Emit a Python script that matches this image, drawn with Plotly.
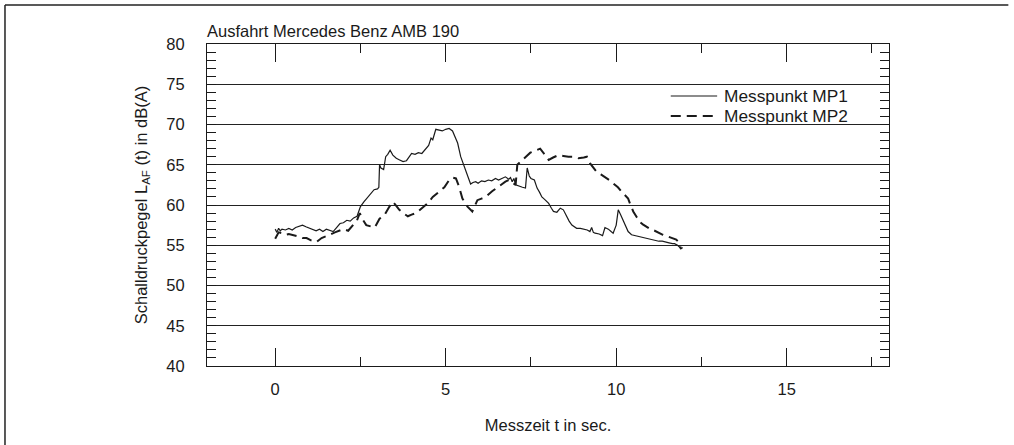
import plotly.graph_objects as go

# ---- data ----
t_mp1 = [0.0, 0.05, 0.1, 0.15, 0.2, 0.3, 0.4, 0.5, 0.6, 0.7, 0.8, 0.9, 1.0, 1.1, 1.2, 1.3, 1.4, 1.5,
         1.6, 1.7, 1.8, 1.9, 2.0, 2.1, 2.2, 2.3, 2.4, 2.5, 2.6, 2.7, 2.8, 2.9, 3.0, 3.04, 3.06, 3.1,
         3.18, 3.24, 3.3, 3.37, 3.45, 3.55, 3.65, 3.75, 3.85, 3.92, 4.0, 4.1, 4.2, 4.3, 4.4, 4.5,
         4.57, 4.62, 4.71, 4.8, 4.9, 5.0, 5.1, 5.2, 5.3, 5.35, 5.44, 5.54, 5.64, 5.73, 5.8, 5.88,
         5.95, 6.05, 6.15, 6.25, 6.35, 6.46, 6.55, 6.65, 6.75, 6.85, 6.9, 6.95, 7.0, 7.05, 7.15,
         7.25, 7.34, 7.39, 7.45, 7.5, 7.6, 7.68, 7.75, 7.82, 7.9, 8.02, 8.1, 8.16, 8.26, 8.36, 8.45,
         8.55, 8.62, 8.7, 8.78, 8.84, 8.95, 9.04, 9.15, 9.23, 9.28, 9.33, 9.38, 9.5, 9.6, 9.67,
         9.77, 9.85, 9.91, 10.0, 10.06, 10.13, 10.2, 10.28, 10.35, 10.45, 10.55, 10.64, 10.75,
         10.84, 10.95, 11.05, 11.13, 11.25, 11.35, 11.42, 11.55, 11.65, 11.71, 11.8, 11.9, 11.95]
l_mp1 = [57.0, 56.6, 57.1, 56.8, 57.0, 56.9, 57.1, 56.9, 57.2, 57.4, 57.5, 57.3, 57.1, 57.0, 56.8,
         57.0, 56.7, 57.0, 56.8, 56.7, 57.2, 57.7, 57.8, 58.1, 58.0, 58.4, 58.6, 59.8, 60.4, 60.9,
         61.4, 61.9, 62.0, 62.2, 65.0, 64.6, 64.4, 66.0, 66.3, 66.8, 66.2, 65.8, 65.6, 65.4, 65.5,
         65.9, 66.4, 66.3, 66.5, 66.4, 66.9, 67.4, 68.3, 68.1, 69.4, 69.3, 69.2, 69.4, 69.5, 69.2,
         68.3, 67.7, 66.0, 64.8, 63.5, 62.6, 62.8, 62.9, 62.7, 63.0, 62.9, 63.1, 63.0, 63.3, 63.1,
         63.3, 63.5, 63.2, 63.4, 62.9, 63.3, 62.5, 62.3, 62.2, 62.1, 64.6, 63.6, 63.3, 63.1, 62.1,
         61.6, 61.0, 60.7, 60.2, 59.6, 59.2, 59.1, 59.6, 59.4, 58.5, 58.0, 57.5, 57.3, 57.1, 57.1,
         57.0, 56.9, 56.7, 57.2, 56.6, 56.5, 56.4, 56.2, 57.2, 57.0, 56.7, 56.5, 57.5, 59.4, 58.8,
         58.1, 57.3, 56.7, 56.3, 56.2, 56.1, 56.0, 55.9, 55.8, 55.7, 55.6, 55.5, 55.5, 55.4, 55.3,
         55.2, 55.2, 55.0, 54.6, 54.7]

t_mp2 = [0.0, 0.05, 0.1, 0.2, 0.3, 0.4, 0.5, 0.6, 0.68, 0.8, 0.92, 1.05, 1.21, 1.36, 1.5, 1.6,
         1.75, 1.9, 2.0, 2.14, 2.28, 2.4, 2.48, 2.55, 2.67, 2.8, 2.92, 3.06, 3.21, 3.35, 3.45,
         3.55, 3.64, 3.75, 3.89, 4.0, 4.13, 4.22, 4.32, 4.47, 4.62, 4.71, 4.81, 4.96, 5.1, 5.2,
         5.3, 5.39, 5.49, 5.64, 5.78, 5.93, 6.05, 6.17, 6.36, 6.6, 6.75, 6.85, 6.95, 7.05, 7.1,
         7.24, 7.35, 7.48, 7.6, 7.77, 7.9, 8.02, 8.15, 8.31, 8.45, 8.6, 8.75, 8.89, 9.05, 9.14,
         9.23, 9.33, 9.43, 9.55, 9.67, 9.8, 9.91, 10.05, 10.15, 10.25, 10.35, 10.42, 10.5, 10.6,
         10.69, 10.78, 10.88, 11.0, 11.13, 11.25, 11.37, 11.5, 11.61, 11.76, 11.85, 11.9]
l_mp2 = [55.8, 56.3, 56.6, 56.5, 56.3, 56.4, 56.3, 56.2, 56.1, 55.9, 55.9, 55.6, 55.4, 55.9, 56.1,
         56.3, 56.6, 56.9, 57.0, 56.8, 57.5, 58.1, 59.0, 58.3, 57.5, 57.3, 57.2, 58.3, 58.8, 59.8,
         60.4, 59.9, 59.4, 59.0, 58.6, 58.8, 59.0, 59.3, 59.7, 60.2, 61.0, 61.3, 61.7, 62.2, 63.1,
         63.4, 63.3, 62.3, 60.8, 59.8, 59.2, 60.6, 60.8, 61.0, 61.7, 62.5, 62.9, 63.1, 62.8, 62.5,
         65.0, 65.6, 66.0, 66.5, 66.7, 67.0, 66.3, 65.6, 65.9, 66.2, 66.1, 66.0, 66.0, 65.8, 65.9,
         66.0, 65.2, 64.6, 64.1, 63.8, 63.5, 63.1, 62.7, 62.2, 61.7, 61.3, 60.8, 60.0, 59.2, 58.5,
         57.9, 57.6, 57.3, 57.0, 56.8, 56.5, 56.3, 56.1, 55.9, 55.7, 55.3, 54.5]

series_names = ["Messpunkt MP1", "Messpunkt MP2"]
title_text = "Ausfahrt Mercedes Benz AMB 190"
x_title = "Messzeit t in sec."
y_title = "Schalldruckpegel L<sub>AF</sub> (t) in dB(A)"

FONT = "Liberation Sans, Arial, Helvetica, sans-serif"
INK = "#1a1a1a"
FS = 16.5
DASH = "10px,6px"
styles = [dict(color=INK, width=1.2), dict(color=INK, width=2, dash=DASH)]

fig = go.Figure()
fig.add_trace(go.Scatter(x=t_mp1, y=l_mp1, mode="lines", name=series_names[0], line=styles[0]))
fig.add_trace(go.Scatter(x=t_mp2, y=l_mp2, mode="lines", name=series_names[1], line=styles[1]))

# outer frame (top and left edges visible in the reference)
frame = dict(color="#222", width=1.5)
shapes = [
    dict(type="line", xref="paper", yref="paper", x0=-0.2962, x1=1.175, y0=1.1211, y1=1.1211,
         line=frame, layer="below"),
    dict(type="line", xref="paper", yref="paper", x0=-0.2962, x1=-0.2962, y0=-0.2453, y1=1.1211,
         line=frame, layer="below"),
]

# custom legend (line samples + labels) in paper coordinates
legend_rows_y = [0.8385, 0.7764]
annotations = []
for name, st, yy in zip(series_names, styles, legend_rows_y):
    shapes.append(dict(type="line", xref="paper", yref="paper", x0=0.680, x1=0.748, y0=yy, y1=yy,
                       line=st))
    annotations.append(dict(xref="paper", yref="paper", x=0.7551, y=yy, xanchor="left",
                            yanchor="middle", text=name, showarrow=False,
                            font=dict(size=17.3, color=INK)))

fig.update_layout(
    width=1014, height=445,
    margin=dict(l=207, r=125, t=44, b=79),
    paper_bgcolor="white", plot_bgcolor="white",
    font=dict(family=FONT, size=FS, color=INK),
    title=dict(text=title_text, x=207 / 1014, xanchor="left", y=1 - 31 / 445, yanchor="middle",
               font=dict(size=FS)),
    showlegend=False,
    shapes=shapes,
    annotations=annotations,
)

fig.update_xaxes(
    range=[-2, 18], tick0=0, dtick=5, ticks="inside", ticklen=18, tickwidth=1, tickcolor=INK,
    showline=True, linecolor=INK, linewidth=1.2, mirror="ticks", showgrid=False, zeroline=False,
    ticklabelstandoff=8,
    minor=dict(tick0=0, dtick=2.5, ticks="inside", ticklen=9, tickcolor=INK, showgrid=False),
    title=dict(text=x_title, standoff=22, font=dict(size=FS)),
)
fig.update_yaxes(
    range=[40, 80], tick0=40, dtick=5, ticks="inside", ticklen=9, tickwidth=1, tickcolor=INK,
    showline=True, linecolor=INK, linewidth=1.2, mirror="ticks", showgrid=True, gridcolor="#222",
    gridwidth=1.1, zeroline=False, ticklabelstandoff=18,
    minor=dict(dtick=1, ticks="inside", ticklen=9, tickcolor=INK, showgrid=False),
    title=dict(text=y_title, standoff=14, font=dict(size=FS)),
)

fig.write_html("out.html", config={"displayModeBar": False},
               post_script="document.body.style.margin='0';document.body.style.overflow='hidden';")
